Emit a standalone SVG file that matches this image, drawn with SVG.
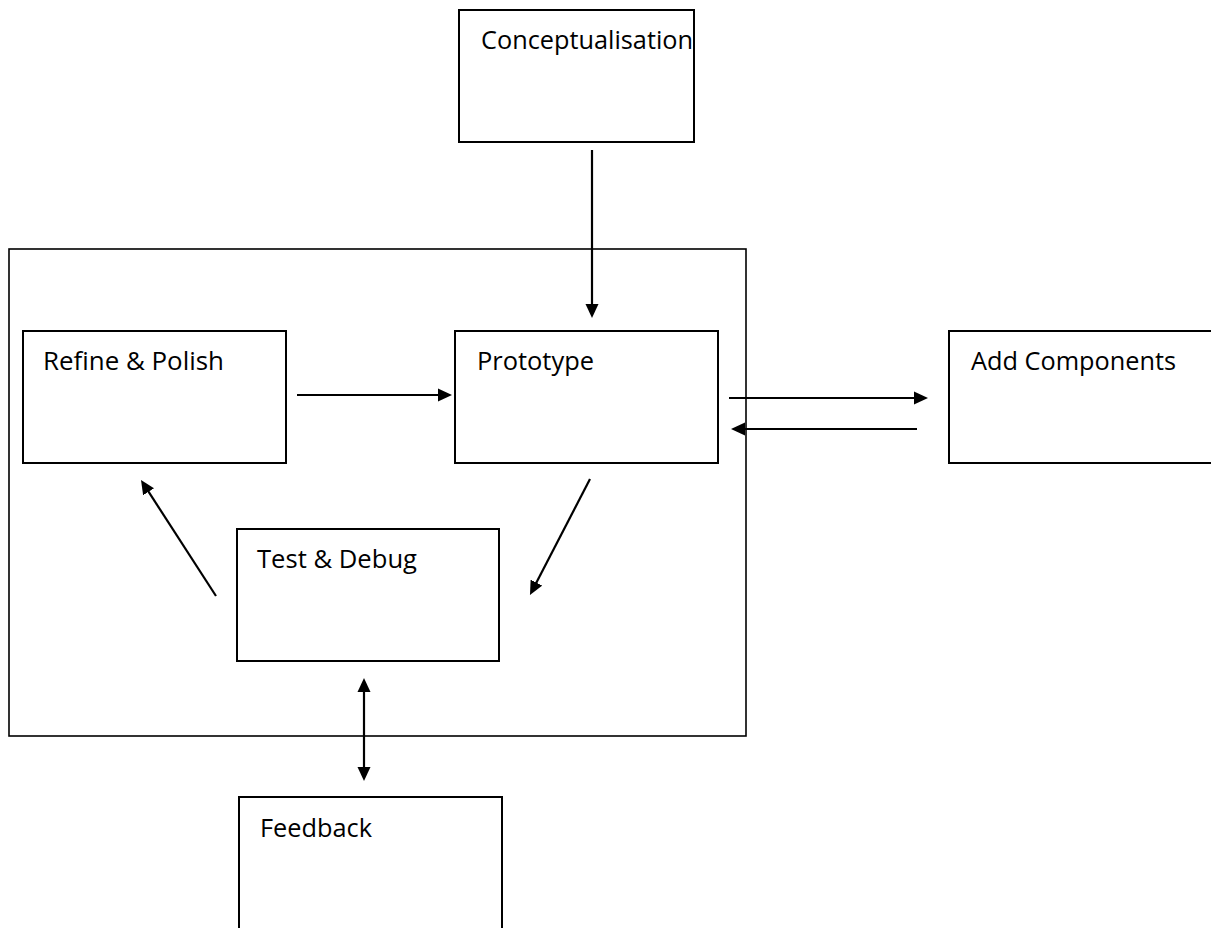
<svg xmlns="http://www.w3.org/2000/svg" width="1211" height="928" viewBox="0 0 1211 928">
  <style>
    .box { fill: #ffffff; stroke: #000000; stroke-width: 2; }
    .frame { fill: none; stroke: #000000; stroke-width: 1.6; }
    .lbl { font-family: "Open Sans", "Liberation Sans", sans-serif; font-size: 26px; fill: #000000; }
    .conn { stroke: #000000; stroke-width: 2.2; fill: none; }
  </style>
  <defs>
    <marker id="arr" markerUnits="userSpaceOnUse" viewBox="0 0 14 14" markerWidth="14" markerHeight="14" refX="7" refY="7" orient="auto-start-reverse">
      <path d="M0,0.5 L14,7 L0,13.5 z" fill="#000000"/>
    </marker>
  </defs>
  <rect width="1211" height="928" fill="#ffffff"/>

  <g id="container">
    <rect class="frame" x="9" y="249" width="737" height="487"/>
  </g>

  <g id="conceptualisation">
    <rect class="box" x="459" y="10" width="235" height="132"/>
    <text class="lbl" x="481" y="49" textLength="212" lengthAdjust="spacingAndGlyphs">Conceptualisation</text>
  </g>
  <g id="refine-polish">
    <rect class="box" x="23" y="331" width="263" height="132"/>
    <text class="lbl" x="43" y="370" textLength="181" lengthAdjust="spacingAndGlyphs">Refine &amp; Polish</text>
  </g>
  <g id="prototype">
    <rect class="box" x="455" y="331" width="263" height="132"/>
    <text class="lbl" x="477" y="370" textLength="117" lengthAdjust="spacingAndGlyphs">Prototype</text>
  </g>
  <g id="add-components">
    <rect class="box" x="949" y="331" width="270" height="132"/>
    <text class="lbl" x="971" y="370" textLength="205" lengthAdjust="spacingAndGlyphs">Add Components</text>
  </g>
  <g id="test-debug">
    <rect class="box" x="237" y="529" width="262" height="132"/>
    <text class="lbl" x="257" y="568" textLength="160" lengthAdjust="spacingAndGlyphs">Test &amp; Debug</text>
  </g>
  <g id="feedback">
    <rect class="box" x="239" y="797" width="263" height="140"/>
    <text class="lbl" x="260" y="837" textLength="112" lengthAdjust="spacingAndGlyphs">Feedback</text>
  </g>

  <g id="connectors">
    <line class="conn" x1="592" y1="150" x2="592" y2="311" marker-end="url(#arr)"/>
    <line class="conn" x1="297" y1="395" x2="445" y2="395" marker-end="url(#arr)"/>
    <line class="conn" x1="729" y1="398" x2="921" y2="398" marker-end="url(#arr)"/>
    <line class="conn" x1="917" y1="429" x2="738" y2="429" marker-end="url(#arr)"/>
    <line class="conn" x1="216" y1="596" x2="144.8" y2="485.9" marker-end="url(#arr)"/>
    <line class="conn" x1="590" y1="479" x2="533.2" y2="588.8" marker-end="url(#arr)"/>
    <line class="conn" x1="364" y1="685" x2="364" y2="774" marker-start="url(#arr)" marker-end="url(#arr)"/>
  </g>
</svg>
